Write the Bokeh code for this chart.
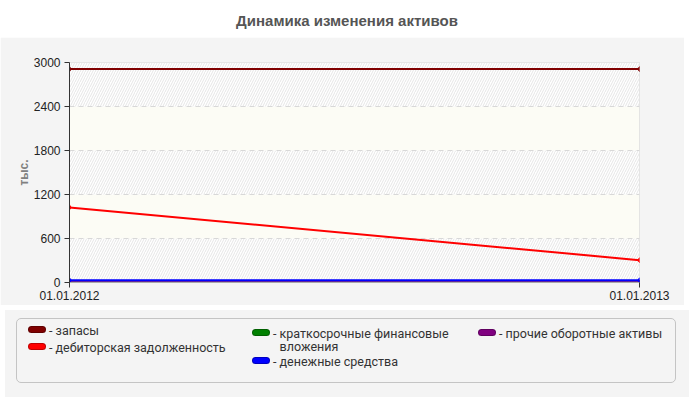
from bokeh.plotting import figure
from bokeh.models import ColumnDataSource, FixedTicker, BoxAnnotation, Div
from bokeh.layouts import column
from bokeh.embed import file_html
from bokeh.resources import INLINE

# ---- data ----
dates = ["01.01.2012", "01.01.2013"]
x_idx = [0, 1]
zapasy = [2910, 2910]
debitor = [1024, 305]
kratkosroch = [0, 0]
denezhnye = [31, 31]
prochie = [3, 3]
y_ticks = [0, 600, 1200, 1800, 2400, 3000]

names = ["запасы", "дебиторская задолженность", "краткосрочные финансовые вложения",
         "денежные средства", "прочие оборотные активы"]
values = [zapasy, debitor, kratkosroch, denezhnye, prochie]
colors = ["#800000", "#ff0000", "#008000", "#0000ff", "#800080"]
draw_order = [0, 1, 2, 4, 3]

FONT = "Liberation Sans"
PANEL = "#f4f4f4"

title = Div(text="Динамика изменения активов", width=684, height=27,
            styles={"text-align": "center", "font-family": FONT, "font-weight": "bold",
                    "font-size": "15px", "color": "#555555", "padding-top": "5px",
                    "width": "684px", "background": "#ffffff"})

p = figure(width=684, height=268, output_backend="svg", toolbar_location=None,
           x_range=(0, 1), y_range=(0, 3000),
           min_border_left=69, min_border_right=45, min_border_top=25, min_border_bottom=23)
p.border_fill_color = PANEL
p.background_fill_color = "#ffffff"
p.outline_line_color = "#dddddd"

# alternating bands between y ticks
for i in range(len(y_ticks) - 1):
    if i % 2 == 0:
        b = BoxAnnotation(bottom=y_ticks[i], top=y_ticks[i + 1], fill_color="#ffffff", fill_alpha=1,
                          hatch_pattern="/", hatch_color="#e6e6e6", hatch_scale=5, hatch_weight=1,
                          line_color=None, level="image")
    else:
        b = BoxAnnotation(bottom=y_ticks[i], top=y_ticks[i + 1], fill_color="#fcfcf5", fill_alpha=1,
                          line_color=None, level="image")
    p.add_layout(b)

p.xgrid.visible = False
p.ygrid.level = "underlay"
p.ygrid.grid_line_color = "#d8d8d8"
p.ygrid.grid_line_dash = "5 4"
p.ygrid.ticker = FixedTicker(ticks=y_ticks[1:-1])

p.yaxis.ticker = FixedTicker(ticks=y_ticks)
p.xaxis.ticker = FixedTicker(ticks=x_idx)
p.xaxis.major_label_overrides = {x_idx[i]: dates[i] for i in range(len(dates))}
for ax in (p.xaxis, p.yaxis):
    ax.axis_line_color = "#333333"
    ax.major_tick_line_color = "#333333"
    ax.major_tick_out = 5
    ax.major_tick_in = 0
    ax.minor_tick_line_color = None
    ax.major_label_text_font = FONT
    ax.major_label_text_font_size = "12px"
    ax.major_label_text_color = "#222222"
p.xaxis.axis_line_color = "#aaaaaa"
p.xaxis.major_label_standoff = 3
p.yaxis.major_label_standoff = 4
p.yaxis.axis_label = "тыс."
p.yaxis.axis_label_text_font = FONT
p.yaxis.axis_label_text_font_size = "12px"
p.yaxis.axis_label_text_font_style = "bold"
p.yaxis.axis_label_text_color = "#808080"
p.yaxis.axis_label_standoff = 0

for k in draw_order:
    src = ColumnDataSource(dict(x=x_idx, y=values[k]))
    p.line("x", "y", source=src, line_color=colors[k], line_width=2)
    p.scatter("x", "y", source=src, marker="diamond", size=5, color=colors[k])

# ---- legend (HTML) ----
item_pos = [(11, 5), (11, 22), (235, 8), (235, 36), (461, 8)]  # (left, top) inside the box
parts = []
for k in range(len(names)):
    left, top = item_pos[k]
    parts.append(
        f'<div style="position:absolute;left:{left}px;top:{top}px;display:flex;align-items:flex-start;'
        f'font-family:Roboto;font-size:12.5px;line-height:13px;color:#333">'
        f'<span style="display:inline-block;width:18px;height:7px;border-radius:4px;'
        f'background:{colors[k]};border:1px solid rgba(0,0,0,0.25);margin-top:2px"></span>'
        f'<span style="margin-left:3px">-&nbsp;</span>'
        f'<span style="max-width:180px">{names[k]}</span></div>')
legend_html = (
    '<div style="position:relative;width:684px;height:87px;background:%s">'
    '<div style="position:absolute;left:11px;top:8px;width:660px;height:65px;'
    'border:1px solid #c4c4c4;border-radius:5px">%s</div></div>' % (PANEL, "".join(parts)))
legend = Div(text=legend_html, width=684, height=87, styles={"background": PANEL})

layout = column(title, p, legend, spacing=0)
open("out.html", "w").write(file_html(layout, INLINE))
